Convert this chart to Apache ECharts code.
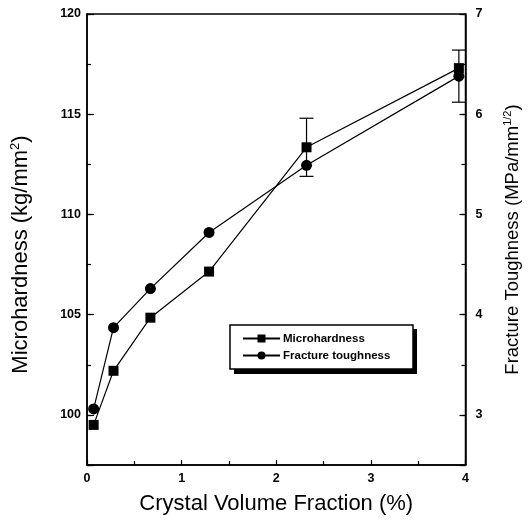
<!DOCTYPE html>
<html>
<head>
<meta charset="utf-8">
<title>Microhardness and fracture toughness vs crystal volume fraction</title>
<script src="https://cdn.jsdelivr.net/npm/echarts@6/dist/echarts.min.js"></script>
<style>
  html, body { margin: 0; padding: 0; background: #fff; }
  #chart { width: 530px; height: 520px; }
</style>
</head>
<body>
<div id="chart"></div>
<script>
// Crystal volume fraction (%) for each sample
const volumeFraction = [0.07, 0.28, 0.67, 1.29, 2.32, 3.93];
// Vickers microhardness (kg/mm^2), left axis
const microhardness = [99.5, 102.2, 104.85, 107.15, 113.35, 117.3];
// Fracture toughness (MPa/mm^1/2), right axis
const fractureToughness = [3.06, 3.87, 4.26, 4.82, 5.49, 6.38];
// Half-widths of the error bars (0 = no bar drawn)
const microhardnessError = [0, 0, 0, 0, 1.45, 0];
const toughnessError = [0, 0, 0, 0, 0, 0.26];

const seriesNames = ['Microhardness', 'Fracture toughness'];

const FONT = '"Liberation Sans", Arial, Helvetica, sans-serif';

function pairs(xs, ys) {
  return xs.map((x, i) => [x, ys[i]]);
}
function errorRows(xs, ys, errs) {
  const rows = [];
  xs.forEach((x, i) => {
    if (errs[i] > 0) rows.push([x, ys[i] - errs[i], ys[i] + errs[i]]);
  });
  return rows;
}

function errorBarRenderer(params, api) {
  const x = api.value(0);
  const lo = api.coord([x, api.value(1)]);
  const hi = api.coord([x, api.value(2)]);
  const half = 7;
  const style = { stroke: '#000', lineWidth: 1.2 };
  return {
    type: 'group',
    children: [
      { type: 'line', shape: { x1: hi[0], y1: hi[1], x2: lo[0], y2: lo[1] }, style },
      { type: 'line', shape: { x1: hi[0] - half, y1: hi[1], x2: hi[0] + half, y2: hi[1] }, style },
      { type: 'line', shape: { x1: lo[0] - half, y1: lo[1], x2: lo[0] + half, y2: lo[1] }, style }
    ]
  };
}

const tickLabel = { color: '#000', fontFamily: FONT, fontSize: 12.5, fontWeight: 'bold' };
const axisLine = { show: true, lineStyle: { color: '#000', width: 1.5 } };

const chart = echarts.init(document.getElementById('chart'), null, { renderer: 'canvas' });

chart.setOption({
  animation: false,
  backgroundColor: '#fff',
  textStyle: { fontFamily: FONT },
  grid: { left: 87, right: 62, top: 14, bottom: 53, show: true, borderColor: '#000', borderWidth: 1.5 },
  // legend frame with its drop shadow
  graphic: [
    { type: 'rect', z: 5, shape: { x: 234, y: 329, width: 183, height: 45 }, style: { fill: '#000' } },
    { type: 'rect', z: 6, shape: { x: 230, y: 325, width: 183, height: 44 }, style: { fill: '#fff', stroke: '#000', lineWidth: 1.5 } }
  ],
  legend: {
    data: seriesNames,
    orient: 'vertical',
    left: 242,
    top: 332,
    z: 10,
    itemWidth: 37,
    itemHeight: 10,
    itemGap: 4,
    padding: 0,
    textStyle: { color: '#000', fontFamily: FONT, fontSize: 11.5, fontWeight: 'bold', padding: [0, 0, 0, -2], lineHeight: 13 }
  },
  xAxis: {
    type: 'value',
    min: 0,
    max: 4,
    interval: 1,
    name: 'Crystal Volume Fraction (%)',
    nameLocation: 'middle',
    nameGap: 28,
    nameTextStyle: { color: '#000', fontFamily: FONT, fontSize: 22, verticalAlign: 'top' },
    axisLine,
    axisTick: { show: true, inside: true, length: 5, lineStyle: { color: '#000', width: 1.2 } },
    minorTick: { show: true, splitNumber: 2, length: 4, lineStyle: { color: '#000', width: 1.2 } },
    axisLabel: Object.assign({ margin: 7 }, tickLabel),
    splitLine: { show: false }
  },
  yAxis: [
    {
      type: 'value',
      position: 'left',
      min: 97.5,
      max: 120,
      splitNumber: 5,
      name: 'Microhardness (kg/mm{sup|2})',
      nameLocation: 'middle',
      nameRotate: 90,
      nameGap: 54,
      nameTextStyle: {
        color: '#000', fontFamily: FONT, fontSize: 22,
        padding: [0, 30, 0, 0],
        rich: { sup: { fontFamily: FONT, fontSize: 13, color: '#000', verticalAlign: 'top', padding: [0, 0, 11, 0] } }
      },
      axisLine,
      axisTick: { show: true, inside: true, length: 7, lineStyle: { color: '#000', width: 1.2 } },
      axisLabel: Object.assign({ margin: 6, formatter: v => (v % 5 === 0 ? String(v) : '') }, tickLabel),
      splitLine: { show: false }
    },
    {
      type: 'value',
      position: 'right',
      min: 2.5,
      max: 7,
      splitNumber: 5,
      name: 'Fracture Toughness (MPa/mm{sup|1/2})',
      nameLocation: 'middle',
      nameRotate: 90,
      nameGap: 37,
      nameTextStyle: {
        color: '#000', fontFamily: FONT, fontSize: 18.5,
        rich: { sup: { fontFamily: FONT, fontSize: 11, color: '#000', verticalAlign: 'top', padding: [0, 0, 9, 0] } }
      },
      axisLine,
      axisTick: { show: true, inside: true, length: 6, lineStyle: { color: '#000', width: 1.2 } },
      axisLabel: Object.assign({ margin: 10, formatter: v => (v % 1 === 0 ? String(v) : '') }, tickLabel),
      splitLine: { show: false }
    },
    {
      // half-step ticks on the hardness axis
      type: 'value',
      position: 'left',
      min: 97.5,
      max: 120,
      interval: 2.5,
      axisLine: { show: false },
      axisTick: { show: true, inside: true, length: 4, lineStyle: { color: '#000', width: 1.2 } },
      axisLabel: { show: false },
      splitLine: { show: false }
    },
    {
      // half-step ticks on the toughness axis
      type: 'value',
      position: 'right',
      min: 2.5,
      max: 7,
      interval: 0.5,
      axisLine: { show: false },
      axisTick: { show: true, inside: true, length: 4, lineStyle: { color: '#000', width: 1.2 } },
      axisLabel: { show: false },
      splitLine: { show: false }
    }
  ],
  series: [
    {
      type: 'custom',
      name: 'hardness error',
      yAxisIndex: 0,
      renderItem: errorBarRenderer,
      data: errorRows(volumeFraction, microhardness, microhardnessError),
      encode: { x: 0, y: [1, 2] },
      z: 1,
      silent: true
    },
    {
      type: 'custom',
      name: 'toughness error',
      yAxisIndex: 1,
      renderItem: errorBarRenderer,
      data: errorRows(volumeFraction, fractureToughness, toughnessError),
      encode: { x: 0, y: [1, 2] },
      z: 1,
      silent: true
    },
    {
      type: 'line',
      name: seriesNames[0],
      yAxisIndex: 0,
      data: pairs(volumeFraction, microhardness),
      symbol: 'rect',
      symbolSize: 10,
      showAllSymbol: true,
      itemStyle: { color: '#000' },
      lineStyle: { color: '#000', width: 1.2 },
      z: 3
    },
    {
      type: 'line',
      name: seriesNames[1],
      yAxisIndex: 1,
      data: pairs(volumeFraction, fractureToughness),
      symbol: 'circle',
      symbolSize: 11,
      showAllSymbol: true,
      itemStyle: { color: '#000' },
      lineStyle: { color: '#000', width: 1.2 },
      z: 3
    }
  ]
});
</script>
</body>
</html>
